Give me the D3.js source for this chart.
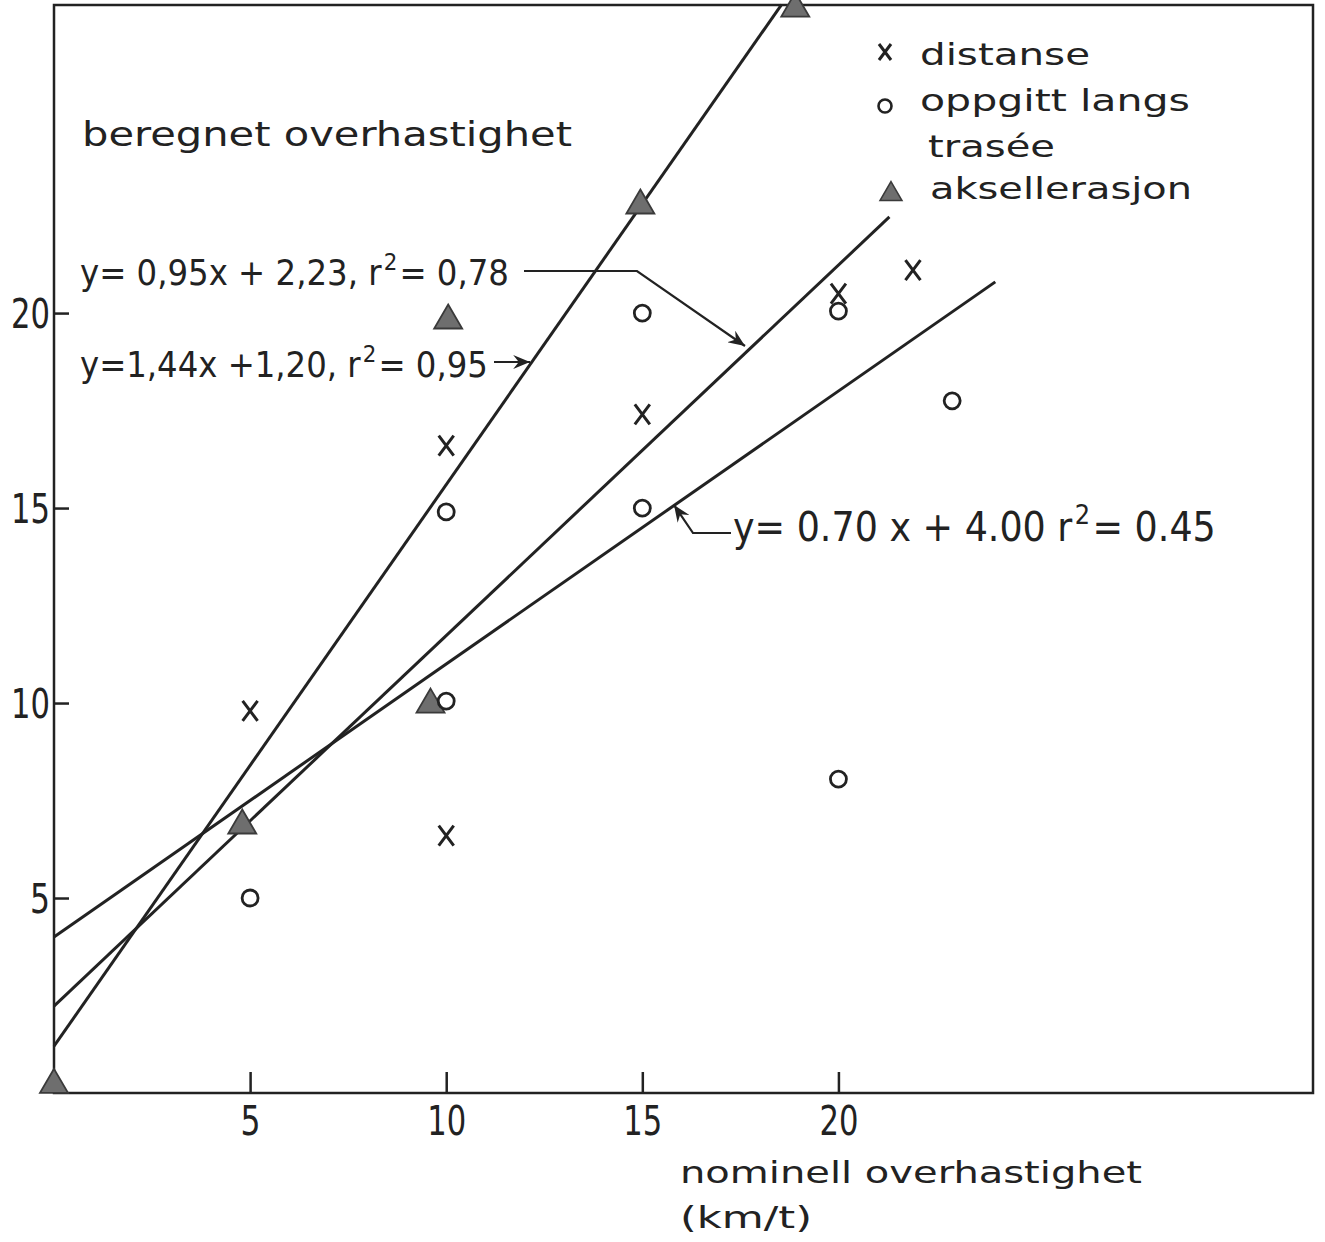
<!DOCTYPE html>
<html>
<head>
<meta charset="utf-8">
<script src="https://cdn.jsdelivr.net/npm/d3@7"></script>
<style>
  html, body { margin: 0; padding: 0; background: #fff; }
  svg { display: block; }
  text { font-family: "DejaVu Sans", sans-serif; fill: #222; }
  .eq { font-stretch: condensed; }
</style>
</head>
<body>
<svg id="chart" width="1325" height="1242"></svg>
<script>
// Measured excess speed against nominal excess speed (km/t)
const distanse = [[5, 9.8], [10, 16.6], [10, 6.6], [15, 17.4], [20, 20.5], [21.9, 21.1]];
const oppgitt = [[5, 5.0], [10, 14.9], [10, 10.05], [15, 20.0], [15, 15.0], [20, 20.05], [20, 8.05], [22.9, 17.75]];
const aksellerasjon = [[0, 0.25], [4.8, 6.9], [9.6, 10.0], [10.05, 19.85], [14.95, 22.8], [18.9, 27.85]];

// Fitted regression lines: slope, intercept, x-range
const fits = [
  { a: 1.44, b: 1.20, x0: 0, x1: 18.55 },
  { a: 0.95, b: 2.23, x0: 0, x1: 21.3 },
  { a: 0.70, b: 4.00, x0: 0, x1: 24.0 }
];

const xTicks = [5, 10, 15, 20];
const yTicks = [5, 10, 15, 20];

const svg = d3.select("#chart");
const x = d3.scaleLinear().domain([0, 32.1]).range([54, 1313]);
const y = d3.scaleLinear().domain([0, 27.9]).range([1093, 5]);

const ink = "#222";

// Frame
svg.append("rect")
  .attr("x", x(0)).attr("y", y(27.9))
  .attr("width", x(32.1) - x(0)).attr("height", y(0) - y(27.9))
  .attr("fill", "none").attr("stroke", ink).attr("stroke-width", 2.5);

// Axes with inward ticks; narrow stencil-like digits
const xAxis = svg.append("g").attr("transform", `translate(0,${y(0)})`)
  .call(d3.axisBottom(x).tickValues(xTicks).tickSizeInner(-21).tickSizeOuter(0).tickPadding(34).tickFormat(d3.format("d")));
const yAxis = svg.append("g").attr("transform", `translate(${x(0)},0)`)
  .call(d3.axisLeft(y).tickValues(yTicks).tickSizeInner(-15).tickSizeOuter(0).tickPadding(6).tickFormat(d3.format("d")));
[xAxis, yAxis].forEach(g => {
  g.select(".domain").remove();
  g.selectAll(".tick line").attr("stroke", ink).attr("stroke-width", 2.5);
  g.selectAll(".tick text").attr("fill", ink).style("font-size", "41px")
    .style("font-family", "'DejaVu Sans', sans-serif")
    .attr("textLength", d => d < 10 ? 20 : 39)
    .attr("lengthAdjust", "spacingAndGlyphs");
});
xAxis.selectAll(".tick text").attr("dy", "0.2em");
yAxis.selectAll(".tick text").attr("dy", "0.36em").attr("x", -4);

// Regression lines
svg.append("g").selectAll("line").data(fits).join("line")
  .attr("x1", d => x(d.x0)).attr("y1", d => y(d.a * d.x0 + d.b))
  .attr("x2", d => x(d.x1)).attr("y2", d => y(d.a * d.x1 + d.b))
  .attr("stroke", ink).attr("stroke-width", 3);

// Markers
const triPath = (w, h) => `M0,${-h * 0.6}L${w / 2},${h * 0.4}L${-w / 2},${h * 0.4}Z`;
svg.append("g").selectAll("path").data(aksellerasjon).join("path")
  .attr("transform", d => `translate(${x(d[0])},${y(d[1])})`)
  .attr("d", triPath(28, 24))
  .attr("fill", "#6e6e6e").attr("stroke", "#3a3a3a").attr("stroke-width", 1.8);

svg.append("g").selectAll("circle").data(oppgitt).join("circle")
  .attr("cx", d => x(d[0])).attr("cy", d => y(d[1])).attr("r", 8)
  .attr("fill", "none").attr("stroke", ink).attr("stroke-width", 2.8);

const crossPath = "M-7.5,-10L7.5,10M7.5,-10L-7.5,10";
svg.append("g").selectAll("path").data(distanse).join("path")
  .attr("transform", d => `translate(${x(d[0])},${y(d[1])})`)
  .attr("d", crossPath).attr("fill", "none")
  .attr("stroke", ink).attr("stroke-width", 3);

// Texts fitted to a given width
function label(tx, ty, str, size, width) {
  const t = svg.append("text").attr("x", tx).attr("y", ty)
    .style("font-size", size + "px").text(str);
  if (width) t.attr("textLength", width).attr("lengthAdjust", "spacingAndGlyphs");
  return t;
}

label(82, 146, "beregnet overhastighet", 34, 490);

// Legend
svg.append("path").attr("transform", "translate(885,52)").attr("d", "M-6,-8L6,8M6,-8L-6,8")
  .attr("stroke", ink).attr("stroke-width", 3).attr("fill", "none");
label(920, 65, "distanse", 31, 170);
svg.append("circle").attr("cx", 885).attr("cy", 106).attr("r", 6.5)
  .attr("fill", "none").attr("stroke", ink).attr("stroke-width", 2.6);
label(920, 111, "oppgitt langs", 31, 270);
label(928, 157, "trasée", 31, 127);
svg.append("path").attr("transform", "translate(891,193)").attr("d", triPath(22, 19))
  .attr("fill", "#6e6e6e").attr("stroke", "#3a3a3a").attr("stroke-width", 1.5);
label(930, 199, "aksellerasjon", 31, 262);

// Equation labels: text, superscript 2, remainder laid out side by side,
// font size chosen so the whole label spans the given width
function equation(tx, ty, before, after, maxSize, width) {
  const g = svg.append("g").attr("class", "eq");
  const parts = [
    g.append("text").attr("class", "eq").text(before),
    g.append("text").attr("class", "eq").text("2"),
    g.append("text").attr("class", "eq").text(after)
  ];
  const rel = [1, 0.66, 1];
  const gaps = [0.06, 0.06];
  const layout = s => {
    parts.forEach((p, i) => p.style("font-size", (s * rel[i]) + "px"));
    const w = parts.map(p => p.node().getComputedTextLength());
    return { w, total: w[0] + w[1] + w[2] + (gaps[0] + gaps[1]) * s };
  };
  let s = maxSize;
  const first = layout(s);
  if (first.total > width) s = s * width / first.total;
  const { w } = layout(s);
  let cx = tx;
  parts[0].attr("x", cx).attr("y", ty);
  cx += w[0] + gaps[0] * s;
  parts[1].attr("x", cx).attr("y", ty - s * 0.42);
  cx += w[1] + gaps[1] * s;
  parts[2].attr("x", cx).attr("y", ty);
}
equation(80, 285, "y= 0,95x + 2,23, r", "= 0,78", 36, 435);
equation(80, 377, "y=1,44x +1,20, r", "= 0,95", 36, 408);
equation(733, 541, "y= 0.70 x + 4.00 r", "= 0.45", 46, 483);

// Leader lines and arrows
const defs = svg.append("defs");
defs.append("marker").attr("id", "arr").attr("viewBox", "0 0 12 10")
  .attr("refX", 12).attr("refY", 5).attr("markerWidth", 18).attr("markerHeight", 14)
  .attr("markerUnits", "userSpaceOnUse").attr("orient", "auto")
  .append("path").attr("d", "M0,0L12,5L0,10L4,5Z").attr("fill", ink);

const lead = d3.line();
svg.append("path").attr("d", lead([[524, 271], [637, 271], [745, 346]]))
  .attr("fill", "none").attr("stroke", ink).attr("stroke-width", 2.2).attr("marker-end", "url(#arr)");
svg.append("path").attr("d", lead([[494, 362], [530, 362]]))
  .attr("fill", "none").attr("stroke", ink).attr("stroke-width", 2.2).attr("marker-end", "url(#arr)");
svg.append("path").attr("d", lead([[731, 533], [693, 533], [674, 505]]))
  .attr("fill", "none").attr("stroke", ink).attr("stroke-width", 2.2).attr("marker-end", "url(#arr)");

// Axis title
label(680, 1183, "nominell overhastighet", 31, 462);
label(680, 1228, "(km/t)", 31, 132);
</script>
</body>
</html>
